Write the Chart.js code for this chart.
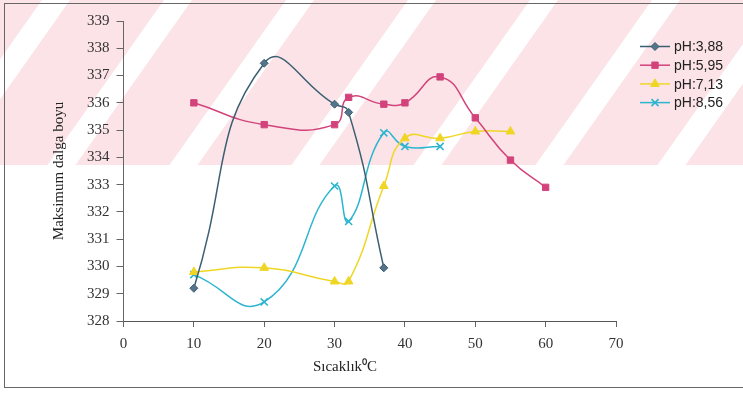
<!DOCTYPE html>
<html>
<head>
<meta charset="utf-8">
<script src="https://cdn.jsdelivr.net/npm/chart.js@4.4.1/dist/chart.umd.min.js"></script>
<style>
  html, body { margin: 0; padding: 0; background: #fff; }
  #wrap { width: 743px; height: 393px; }
</style>
</head>
<body>
<div id="wrap"><canvas id="chart" width="743" height="393"></canvas></div>
<script>
// values
const seriesNames = ['pH:3,88', 'pH:5,95', 'pH:7,13', 'pH:8,56'];

const temps388 = [10, 20, 30, 32, 37];
const ph388 = [329.2, 337.45, 335.95, 335.65, 329.95];

const temps595 = [10, 20, 30, 32, 37, 40, 45, 50, 55, 60];
const ph595 = [336.0, 335.2, 335.2, 336.2, 335.95, 336.0, 336.95, 335.45, 333.9, 332.9];

const temps713 = [10, 20, 30, 32, 37, 40, 45, 50, 55];
const ph713 = [329.8, 329.95, 329.45, 329.45, 332.95, 334.7, 334.7, 334.95, 334.95];

const temps856 = [10, 20, 30, 32, 37, 40, 45];
const ph856 = [329.7, 328.7, 332.95, 331.65, 334.9, 334.4, 334.4];

const xTicks = [0, 10, 20, 30, 40, 50, 60, 70];
const yTicks = [328, 329, 330, 331, 332, 333, 334, 335, 336, 337, 338, 339];
const xTitle = 'Sıcaklık⁰C';

function toPoints(xs, ys) {
    return xs.map((x, i) => ({ x: x, y: ys[i] }));
}

const styles = [
    { color: '#3b5f72', fill: '#55748a', point: 'rectRot', radius: 4 },
    { color: '#d3437b', fill: '#d3437b', point: 'rect', radius: 4.5 },
    { color: '#f0d624', fill: '#f0d624', point: 'triangle', radius: 5 },
    { color: '#2db5cf', fill: '#2db5cf', point: 'crossRot', radius: 5 },
];
const allData = [
    toPoints(temps388, ph388),
    toPoints(temps595, ph595),
    toPoints(temps713, ph713),
    toPoints(temps856, ph856),
];

const datasets = seriesNames.map((name, i) => ({
    label: name,
    data: allData[i],
    showLine: true,
    tension: 0.5,
    borderColor: styles[i].color,
    backgroundColor: styles[i].fill,
    borderWidth: 1.5,
    pointStyle: styles[i].point,
    pointRadius: styles[i].radius,
    pointBorderColor: styles[i].color,
    pointBackgroundColor: styles[i].fill,
    pointBorderWidth: i === 3 ? 1.6 : 1,
}));

const serif = '"Liberation Serif", "Times New Roman", serif';

// faint pink diagonal watermark of the scanned page + frame
const paperPlugin = {
    id: 'paper',
    beforeDraw(chart) {
        const ctx = chart.ctx;
        ctx.save();
        ctx.fillStyle = '#fff';
        ctx.fillRect(0, 0, chart.width, chart.height);
        ctx.beginPath();
        ctx.rect(0, 0, chart.width, 165);
        ctx.clip();
        ctx.fillStyle = '#fbe3e7';
        ctx.fillRect(0, 0, chart.width, 165);
        ctx.fillStyle = '#ffffff';
        for (let s = -200; s < 900; s += 122) {
            ctx.beginPath();
            ctx.moveTo(s, 170);
            ctx.lineTo(s + 28, 170);
            ctx.lineTo(s + 28 + 120, 0);
            ctx.lineTo(s + 120, 0);
            ctx.closePath();
            ctx.fill();
        }
        ctx.restore();
    },
    afterDraw(chart) {
        const ctx = chart.ctx;
        ctx.save();
        ctx.strokeStyle = '#666';
        ctx.lineWidth = 1;
        ctx.strokeRect(4.5, 3.5, 760, 384);

        // x title sits a bit left of the plot centre in the original
        ctx.font = '15px ' + serif;
        ctx.fillStyle = '#222';
        ctx.textAlign = 'center';
        ctx.textBaseline = 'middle';
        ctx.fillText(xTitle, 345, 367);

        // legend: line with marker
        const lx = 640, ly = 46.5, step = 18.7;
        ctx.font = '14px "Liberation Sans", Arial, sans-serif';
        ctx.textAlign = 'left';
        chart.data.datasets.forEach((ds, i) => {
            const y = ly + i * step;
            ctx.strokeStyle = ds.borderColor;
            ctx.lineWidth = 1.5;
            ctx.beginPath();
            ctx.moveTo(lx, y);
            ctx.lineTo(lx + 30, y);
            ctx.stroke();
            ctx.fillStyle = ds.pointBackgroundColor;
            ctx.strokeStyle = ds.pointBorderColor;
            ctx.lineWidth = ds.pointBorderWidth;
            Chart.helpers.drawPoint(ctx, {
                pointStyle: ds.pointStyle,
                radius: ds.pointRadius,
                rotation: 0,
                borderWidth: ds.pointBorderWidth,
            }, lx + 15, y);
            ctx.fillStyle = '#222';
            ctx.fillText(ds.label, lx + 34, y + 1);
        });
        ctx.restore();
    }
};

const ctx = document.getElementById('chart').getContext('2d');
new Chart(ctx, {
    type: 'scatter',
    data: { datasets: datasets },
    options: {
        responsive: false,
        animation: false,
        layout: { padding: { left: 50, right: 127, top: 21, bottom: 18 } },
        plugins: {
            legend: { display: false },
            tooltip: { enabled: false },
        },
        scales: {
            x: {
                type: 'linear',
                min: 0,
                max: 70,
                afterBuildTicks: axis => { axis.ticks = xTicks.map(v => ({ value: v })); },
                grid: { drawOnChartArea: false, drawTicks: true, tickLength: 6, color: '#666' },
                border: { color: '#555', width: 1 },
                ticks: {
                    color: '#333',
                    padding: 8,
                    maxRotation: 0,
                    font: { family: serif, size: 15 },
                },
                // space kept here, text drawn by the plugin
                title: {
                    display: true,
                    text: xTitle,
                    color: 'rgba(0,0,0,0)',
                    padding: { top: -4, bottom: 0 },
                    font: { family: serif, size: 15 },
                },
            },
            y: {
                min: 328,
                max: 339,
                afterBuildTicks: axis => { axis.ticks = yTicks.map(v => ({ value: v })); },
                grid: { drawOnChartArea: false, drawTicks: true, tickLength: 7, color: '#666' },
                border: { color: '#666', width: 1 },
                ticks: {
                    color: '#333',
                    padding: 7,
                    font: { family: serif, size: 15 },
                },
                title: {
                    display: true,
                    text: 'Maksimum dalga boyu',
                    color: '#222',
                    padding: { top: 0, bottom: 12 },
                    font: { family: serif, size: 15 },
                },
            },
        },
    },
    plugins: [paperPlugin],
});
</script>
</body>
</html>
